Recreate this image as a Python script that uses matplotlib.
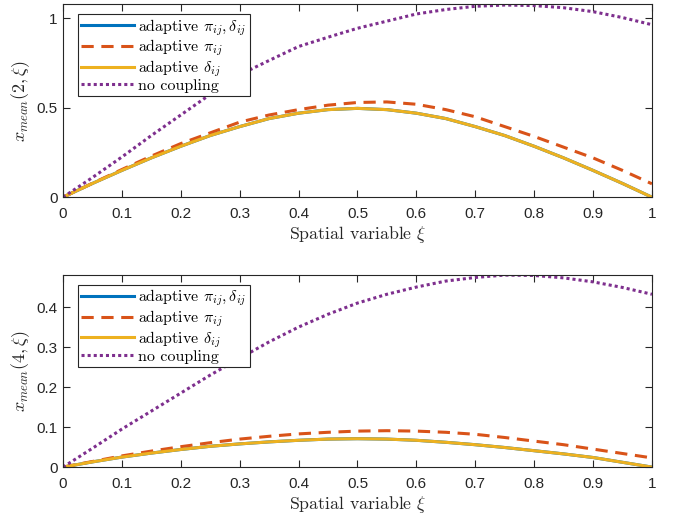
import numpy as np
import matplotlib
matplotlib.use("Agg")
import matplotlib.pyplot as plt

plt.rcParams['font.family'] = ['Liberation Sans', 'DejaVu Sans']
plt.rcParams['mathtext.fontset'] = 'cm'

xi = np.linspace(0, 1, 21)

# top panel, x_mean(2, xi)
top_both = [0, 0.077, 0.15, 0.22, 0.285, 0.345, 0.395, 0.44, 0.47, 0.49, 0.497,
            0.49, 0.47, 0.44, 0.395, 0.345, 0.285, 0.22, 0.15, 0.077, 0]
top_pi = [0, 0.078, 0.155, 0.23, 0.30, 0.36, 0.42, 0.46, 0.49, 0.515, 0.53,
          0.533, 0.52, 0.49, 0.45, 0.395, 0.34, 0.28, 0.22, 0.15, 0.075]
top_delta = [0, 0.077, 0.15, 0.22, 0.285, 0.345, 0.395, 0.44, 0.47, 0.49, 0.497,
             0.49, 0.47, 0.44, 0.395, 0.345, 0.285, 0.22, 0.15, 0.077, 0]
top_none = [0, 0.11, 0.225, 0.345, 0.46, 0.575, 0.685, 0.765, 0.843, 0.895, 0.945,
            0.985, 1.025, 1.05, 1.068, 1.075, 1.072, 1.06, 1.038, 1.005, 0.965]

# bottom panel, x_mean(4, xi)
bot_both = [0, 0.013, 0.025, 0.035, 0.044, 0.052, 0.058, 0.063, 0.067, 0.07, 0.071,
            0.07, 0.067, 0.062, 0.056, 0.049, 0.041, 0.033, 0.024, 0.012, 0]
bot_pi = [0, 0.014, 0.028, 0.04, 0.051, 0.061, 0.07, 0.077, 0.083, 0.087, 0.09,
          0.091, 0.09, 0.087, 0.082, 0.074, 0.065, 0.056, 0.045, 0.034, 0.023]
bot_delta = [0, 0.013, 0.025, 0.035, 0.044, 0.052, 0.058, 0.063, 0.067, 0.07, 0.071,
             0.07, 0.067, 0.062, 0.056, 0.049, 0.041, 0.033, 0.024, 0.012, 0]
bot_none = [0, 0.047, 0.095, 0.14, 0.185, 0.23, 0.272, 0.313, 0.35, 0.382, 0.41,
            0.432, 0.45, 0.465, 0.474, 0.48, 0.479, 0.473, 0.463, 0.449, 0.432]

labels = [r'adaptive $\pi_{ij},\delta_{ij}$', r'adaptive $\pi_{ij}$',
          r'adaptive $\delta_{ij}$', 'no coupling']
colors = ['#0072BD', '#D95319', '#EDB120', '#7E2F8E']
styles = ['-', (0, (4, 2.5)), '-', (0, (1, 1))]

axcol = '#262626'

fig = plt.figure(figsize=(6.77, 5.19), dpi=100)
ax1 = fig.add_axes([0.093, 0.620, 0.870, 0.372])
ax2 = fig.add_axes([0.093, 0.100, 0.870, 0.370])

panels = [
    (ax1, [top_both, top_pi, top_delta, top_none], r'$x_{mean}(2,\xi)$', 1.08, [0, 0.5, 1]),
    (ax2, [bot_both, bot_pi, bot_delta, bot_none], r'$x_{mean}(4,\xi)$', 0.48, [0, 0.1, 0.2, 0.3, 0.4]),
]

for ax, series, ylab, ytop, yticks in panels:
    for ys, c, ls, lab in zip(series, colors, styles, labels):
        ax.plot(xi, ys, color=c, linestyle=ls, lw=2.2, label=lab)
    ax.set_xlim(0, 1)
    ax.set_ylim(0, ytop)
    ax.set_xticks(np.arange(0, 1.01, 0.1))
    ax.set_xticklabels(['0', '0.1', '0.2', '0.3', '0.4', '0.5', '0.6', '0.7', '0.8', '0.9', '1'])
    ax.set_yticks(yticks)
    ax.set_yticklabels(['%g' % t for t in yticks])
    ax.tick_params(direction='in', top=True, right=True, length=5, width=0.8,
                   labelsize=11, colors=axcol, pad=4)
    ax.tick_params(axis='x', pad=7)
    for sp in ax.spines.values():
        sp.set_color(axcol)
        sp.set_linewidth(0.8)
    ax.set_xlabel(r'Spatial variable $\xi$', fontsize=12.8, family='cmr10', color=axcol, labelpad=2)
    ax.set_ylabel(ylab, fontsize=13, color=axcol, labelpad=3)
    leg = ax.legend(loc='upper left', bbox_to_anchor=(0.025, 0.95),
                    prop={'family': 'cmr10', 'size': 11.5}, fancybox=False, framealpha=1,
                    handlelength=3.3, handletextpad=0.3, borderpad=0.2, labelspacing=0.0,
                    borderaxespad=0)
    leg.get_frame().set_edgecolor(axcol)
    leg.get_frame().set_linewidth(0.8)

fig.savefig('out.png', dpi=100)
